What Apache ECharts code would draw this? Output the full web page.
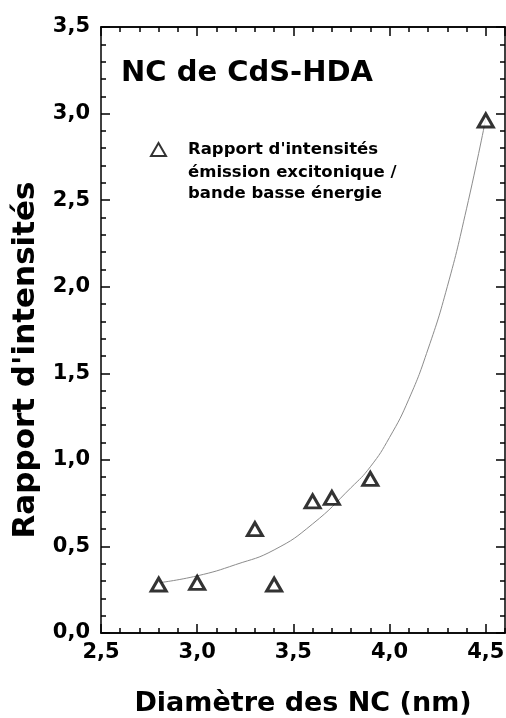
<!DOCTYPE html>
<html>
<head>
<meta charset="utf-8">
<script src="https://cdn.jsdelivr.net/npm/echarts@6/dist/echarts.min.js"></script>
<style>
html, body { margin: 0; padding: 0; background: #fff; }
#main { width: 506px; height: 718px; }
</style>
</head>
<body>
<div id="main"></div>
<script>
// points mesures
var diametre = [2.8, 3.0, 3.3, 3.4, 3.6, 3.7, 3.9, 4.5];
var rapport = [0.28, 0.29, 0.60, 0.28, 0.76, 0.78, 0.89, 2.96];

// courbe d'ajustement
var fitX = [2.8, 3.0, 3.2, 3.4, 3.6, 3.8, 3.9, 4.0, 4.1, 4.2, 4.3, 4.4, 4.5];
var fitY = [0.29, 0.33, 0.395, 0.48, 0.63, 0.84, 0.96, 1.13, 1.35, 1.64, 2.0, 2.45, 2.97];

var yTicks = [0, 0.5, 1.0, 1.5, 2.0, 2.5, 3.0, 3.5];

var legendName = "Rapport d'intensités";
var legendSuite = 'émission excitonique /\nbande basse énergie';

var font = 'DejaVu Sans';

function virgule(v) {
    return v.toFixed(1).replace('.', ',');
}

var chart = echarts.init(document.getElementById('main'));

function xAxe(pos, step, len, labels) {
    return {
        type: 'value',
        position: pos,
        min: 2.5,
        max: 4.6,
        interval: step,
        axisLine: { show: true, onZero: false, lineStyle: { color: '#000', width: 1.5 } },
        axisTick: { show: true, inside: true, length: len, lineStyle: { color: '#000', width: 1.5 } },
        axisLabel: {
            show: labels,
            showMaxLabel: false,
            margin: 9,
            color: '#000',
            fontFamily: font,
            fontWeight: 'bold',
            fontSize: 21,
            formatter: virgule
        },
        splitLine: { show: false }
    };
}

function yAxe(pos, labels) {
    return {
        type: 'value',
        position: pos,
        min: yTicks[0],
        max: yTicks[yTicks.length - 1],
        interval: 0.5,
        axisLine: { show: true, lineStyle: { color: '#000', width: 1.5 } },
        axisTick: { show: true, inside: true, length: 9, lineStyle: { color: '#000', width: 1.5 } },
        minorTick: { show: true, splitNumber: 5, length: 5, lineStyle: { color: '#000', width: 1.5 } },
        axisLabel: {
            show: labels,
            margin: 11,
            color: '#000',
            fontFamily: font,
            fontWeight: 'bold',
            fontSize: 21,
            formatter: virgule
        },
        splitLine: { show: false }
    };
}

var xA = xAxe('bottom', 0.5, 9, true);
xA.name = 'Diamètre des NC (nm)';
xA.nameLocation = 'middle';
xA.nameGap = 57;
xA.nameTextStyle = { color: '#000', fontFamily: font, fontWeight: 'bold', fontSize: 27 };

var yA = yAxe('left', true);
yA.name = "Rapport d'intensités";
yA.nameLocation = 'middle';
yA.nameGap = 58;
yA.nameTextStyle = { color: '#000', fontFamily: font, fontWeight: 'bold', fontSize: 31, padding: [0, 60, 0, 0] };

var option = {
    backgroundColor: '#fff',
    animation: false,
    title: [
        {
            text: 'NC de CdS-HDA',
            left: 121,
            top: 59,
            padding: 0,
            textStyle: { color: '#000', fontFamily: font, fontWeight: 'bold', fontSize: 29 }
        },
        {
            text: legendSuite,
            left: 188,
            top: 162,
            padding: 0,
            textStyle: { color: '#000', fontFamily: font, fontWeight: 'bold', fontSize: 16.5, lineHeight: 21 }
        }
    ],
    legend: {
        left: 150,
        top: 141,
        padding: 0,
        icon: 'triangle',
        itemWidth: 15,
        itemHeight: 13,
        itemGap: 0,
        data: [legendName],
        textStyle: {
            color: '#000',
            fontFamily: font,
            fontWeight: 'bold',
            fontSize: 16.5,
            padding: [0, 0, 0, 17]
        }
    },
    grid: { left: 101, right: 1, top: 27, bottom: 85, containLabel: false, outerBoundsMode: 'none' },
    xAxis: [
        xA,
        xAxe('bottom', 0.1, 5, false),
        xAxe('top', 0.5, 9, false),
        xAxe('top', 0.1, 5, false)
    ],
    yAxis: [
        yA,
        yAxe('right', false)
    ],
    series: [
        {
            name: 'ajustement',
            type: 'line',
            xAxisIndex: 0,
            yAxisIndex: 0,
            data: fitX.map(function (x, i) { return [x, fitY[i]]; }),
            smooth: 0.5,
            symbol: 'none',
            lineStyle: { color: '#8c8c8c', width: 1 },
            z: 1
        },
        {
            name: legendName,
            type: 'scatter',
            xAxisIndex: 0,
            yAxisIndex: 0,
            data: diametre.map(function (x, i) { return [x, rapport[i]]; }),
            symbol: 'triangle',
            symbolSize: [15, 13],
            itemStyle: { color: '#fff', borderColor: '#000', borderWidth: 3 },
            z: 3
        }
    ]
};

chart.setOption(option);
</script>
</body>
</html>
